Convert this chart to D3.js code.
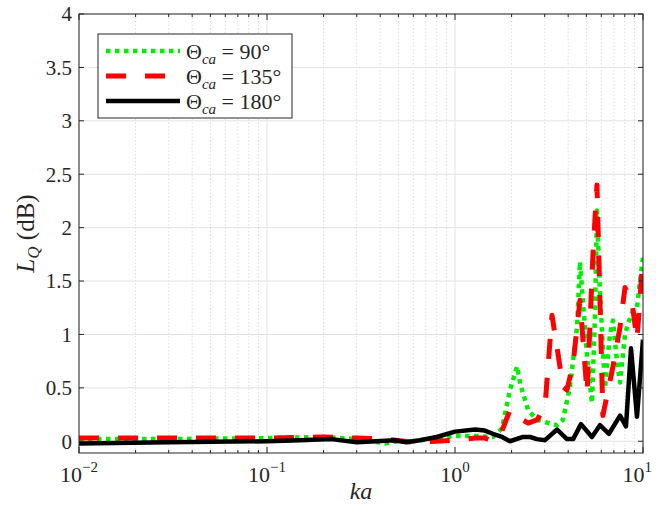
<!DOCTYPE html>
<html>
<head>
<meta charset="utf-8">
<script src="https://cdn.jsdelivr.net/npm/d3@7"></script>
<style>
  body { margin: 0; background: #fff; }
  text { font-family: "Liberation Serif", "DejaVu Serif", serif; fill: #262626; }
</style>
</head>
<body>
<svg width="656" height="517"></svg>
<script>
// data
var ka90  = [0.01, 0.03, 0.1, 0.2, 0.3, 0.43, 0.5, 0.6, 0.8, 1.0, 1.28, 1.59, 1.78, 1.96, 2.14, 2.22, 2.45, 2.73, 3.01, 3.49, 3.75, 4.09, 4.46, 4.62, 5.04, 5.35, 5.56, 5.69, 5.9, 6.28, 6.67, 6.92, 7.27, 7.55, 8.02, 8.32, 8.74, 9.29, 9.64, 10];
var lq90  = [0.02, 0.02, 0.03, 0.04, 0.02, -0.02, 0.0, 0.0, 0.03, 0.05, 0.05, 0.04, 0.12, 0.48, 0.70, 0.54, 0.29, 0.20, 0.18, 0.15, 0.20, 0.51, 1.07, 1.68, 0.79, 0.36, 1.20, 2.16, 1.40, 0.50, 1.00, 1.13, 0.75, 0.55, 1.00, 1.10, 1.20, 1.25, 1.50, 1.72];

var ka135 = [0.01, 0.03, 0.1, 0.2, 0.3, 0.43, 0.6, 0.8, 1.0, 1.28, 1.44, 1.59, 1.78, 1.96, 2.14, 2.45, 2.73, 3.01, 3.28, 3.53, 3.75, 3.94, 4.25, 4.62, 5.04, 5.42, 5.69, 6.12, 6.92, 7.55, 8.02, 8.74, 9.29, 10];
var lq135 = [0.03, 0.03, 0.03, 0.04, 0.03, 0.02, -0.01, 0.0, 0.01, 0.03, 0.03, 0.0, 0.10, 0.29, 0.23, 0.17, 0.20, 0.32, 1.18, 0.82, 0.51, 0.48, 0.73, 1.32, 0.45, 1.76, 2.40, 0.24, 0.70, 1.07, 1.44, 1.30, 0.95, 1.72];

var ka180 = [0.01, 0.03, 0.1, 0.15, 0.22, 0.3, 0.38, 0.48, 0.55, 0.65, 0.8, 1.0, 1.28, 1.44, 1.59, 1.78, 1.96, 2.3, 2.51, 2.73, 3.01, 3.49, 3.94, 4.25, 4.68, 5.35, 5.9, 6.59, 7.55, 8.12, 8.63, 9.29, 10];
var lq180 = [-0.02, -0.01, 0.0, 0.01, 0.02, -0.01, 0.0, 0.01, -0.01, 0.01, 0.04, 0.09, 0.11, 0.1, 0.07, 0.04, 0.0, 0.04, 0.04, 0.02, 0.01, 0.11, 0.02, 0.02, 0.16, 0.04, 0.15, 0.07, 0.24, 0.14, 0.87, 0.23, 0.95];

var xTickExp = [-2, -1, 0, 1];
var yTicks = [0, 0.5, 1, 1.5, 2, 2.5, 3, 3.5, 4];
var legendLabels = ["90°", "135°", "180°"];

var svg = d3.select("svg");
var pLeft = 79, pRight = 643, pTop = 14, pBottom = 453;

var x = d3.scaleLog().domain([0.01, 10]).range([pLeft, pRight]);
var y = d3.scaleLinear().domain([-0.11, 4]).range([pBottom, pTop]);

// minor x positions (2..9 in each decade)
var minor = [];
[0.01, 0.1, 1].forEach(function(d) {
  for (var k = 2; k <= 9; k++) minor.push(d * k);
});

// grid
var grid = svg.append("g");
grid.selectAll(".minor").data(minor).enter().append("line")
    .attr("x1", function(d) { return x(d); }).attr("x2", function(d) { return x(d); })
    .attr("y1", pTop).attr("y2", pBottom)
    .attr("stroke", "#d4d4d4").attr("stroke-width", 0.8).attr("stroke-dasharray", "1.5,2");
grid.selectAll(".major").data(xTickExp).enter().append("line")
    .attr("x1", function(d) { return x(Math.pow(10, d)); }).attr("x2", function(d) { return x(Math.pow(10, d)); })
    .attr("y1", pTop).attr("y2", pBottom)
    .attr("stroke", "#e3e3e3").attr("stroke-width", 1);
grid.selectAll(".ymaj").data(yTicks).enter().append("line")
    .attr("x1", pLeft).attr("x2", pRight)
    .attr("y1", function(d) { return y(d); }).attr("y2", function(d) { return y(d); })
    .attr("stroke", "#e3e3e3").attr("stroke-width", 1);

// curves
svg.append("clipPath").attr("id", "clip").append("rect")
    .attr("x", pLeft).attr("y", pTop).attr("width", pRight - pLeft).attr("height", pBottom - pTop);
var plot = svg.append("g").attr("clip-path", "url(#clip)");

function line(xs) {
  return d3.line().x(function(d, i) { return x(xs[i]); }).y(function(d) { return y(d); });
}
var series = [
  {ka: ka90, lq: lq90, color: "#00ee00", dash: "4.5,4.5", width: 4.5},
  {ka: ka135, lq: lq135, color: "#ff0000", dash: "20,19", width: 5},
  {ka: ka180, lq: lq180, color: "#000000", dash: null, width: 4.5}
];
series.forEach(function(s) {
  plot.append("path")
      .datum(s.lq)
      .attr("d", line(s.ka))
      .attr("fill", "none")
      .attr("stroke", s.color)
      .attr("stroke-width", s.width)
      .attr("stroke-dasharray", s.dash)
      .attr("stroke-linejoin", "round");
});

// frame and ticks
var ax = svg.append("g").attr("stroke", "#262626").attr("stroke-width", 1);
ax.append("rect").attr("x", pLeft).attr("y", pTop).attr("width", pRight - pLeft).attr("height", pBottom - pTop)
    .attr("fill", "none");
yTicks.forEach(function(d) {
  ax.append("line").attr("x1", pLeft).attr("x2", pLeft + 5).attr("y1", y(d)).attr("y2", y(d));
  ax.append("line").attr("x1", pRight).attr("x2", pRight - 5).attr("y1", y(d)).attr("y2", y(d));
});
xTickExp.forEach(function(d) {
  var px = x(Math.pow(10, d));
  ax.append("line").attr("x1", px).attr("x2", px).attr("y1", pBottom).attr("y2", pBottom - 6);
  ax.append("line").attr("x1", px).attr("x2", px).attr("y1", pTop).attr("y2", pTop + 6);
});
minor.forEach(function(d) {
  ax.append("line").attr("x1", x(d)).attr("x2", x(d)).attr("y1", pBottom).attr("y2", pBottom - 3);
  ax.append("line").attr("x1", x(d)).attr("x2", x(d)).attr("y1", pTop).attr("y2", pTop + 3);
});

// tick labels
svg.selectAll(".ylab").data(yTicks).enter().append("text")
    .attr("x", pLeft - 7).attr("y", function(d) { return y(d); })
    .attr("dy", "0.35em").attr("text-anchor", "end")
    .style("font-size", "21px")
    .text(function(d) { return d; });

// last label kept inside the page, as in the reference
var xl = svg.selectAll(".xlab").data(xTickExp).enter().append("text")
    .attr("x", function(d) { return d === 1 ? 652 : x(Math.pow(10, d)); }).attr("y", 482)
    .attr("text-anchor", function(d) { return d === 1 ? "end" : "middle"; })
    .style("font-size", "22px");
xl.append("tspan").text("10");
xl.append("tspan").attr("dy", -10).style("font-size", "15px")
    .text(function(d) { return d < 0 ? "\u2212" + (-d) : d; });

// axis labels
svg.append("text").attr("x", (pLeft + pRight) / 2).attr("y", 499)
    .attr("text-anchor", "middle").style("font-size", "24px").style("font-style", "italic")
    .text("ka");

var yl = svg.append("text").attr("transform", "translate(34," + ((pTop + pBottom) / 2) + ") rotate(-90)")
    .attr("text-anchor", "middle").style("font-size", "25px");
yl.append("tspan").style("font-style", "italic").text("L");
yl.append("tspan").attr("dy", 5).style("font-size", "17px").style("font-style", "italic").text("Q");
yl.append("tspan").attr("dy", -5).text(" (dB)");

// legend
var lg = svg.append("g").attr("transform", "translate(98,34)");
lg.append("rect").attr("width", 194).attr("height", 84)
    .attr("fill", "#fff").attr("stroke", "#262626").attr("stroke-width", 1);
var items = lg.selectAll(".legend").data(series).enter().append("g")
    .attr("transform", function(d, i) { return "translate(0," + (17 + i * 25) + ")"; });
items.append("line")
    .attr("x1", 8).attr("x2", 82).attr("y1", 0).attr("y2", 0)
    .attr("stroke", function(d) { return d.color; })
    .attr("stroke-width", function(d) { return d.width; })
    .attr("stroke-dasharray", function(d) { return d.dash; });
var lt = items.append("text").attr("x", 88).attr("y", 0).attr("dy", "0.35em")
    .style("font-size", "22px");
lt.append("tspan").text("\u0398");
lt.append("tspan").attr("dy", 5).style("font-size", "15px").style("font-style", "italic").text("ca");
lt.append("tspan").attr("dy", -5).text(function(d, i) { return " = " + legendLabels[i]; });
</script>
</body>
</html>
